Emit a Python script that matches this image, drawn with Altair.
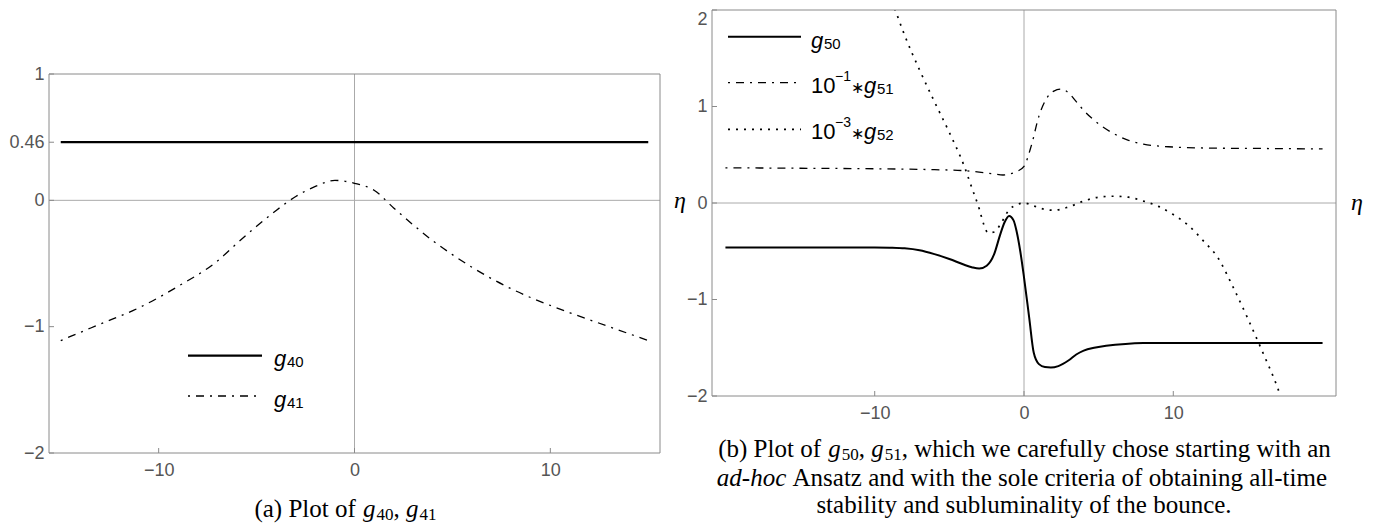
import altair as alt
import pandas as pd

# ---------------- panel (a) data ----------------
a_g40_x = [-15, 15]
a_g40_y = [0.46, 0.46]
a_g41_x = [-15, -13, -11, -9, -7, -6, -5, -4, -3, -2, -1, 0, 1, 2, 3, 4, 5, 6, 7, 8, 9, 11, 13, 15]
a_g41_y = [-1.11, -0.98, -0.85, -0.68, -0.48, -0.34, -0.205, -0.08, 0.03, 0.11, 0.158, 0.135,
           0.08, -0.06, -0.195, -0.32, -0.43, -0.53, -0.62, -0.70, -0.77, -0.89, -1.00, -1.11]
a_xticks = [-10, 0, 10]
a_yticks = [-2, -1, 0, 0.46, 1]

# ---------------- panel (b) data ----------------
b_g50_x = [-20, -15, -10, -9, -8, -7, -6, -5, -4, -3.5, -3, -2.5, -2, -1.6, -1.3, -1.0, -0.7,
           -0.5, -0.25, 0, 0.35, 0.65, 1.0, 1.4, 1.8, 2.3, 3.0, 3.5, 4.0, 4.7, 5.5, 6.8, 8, 10, 14, 20]
b_g50_y = [-0.46, -0.46, -0.46, -0.463, -0.47, -0.49, -0.53, -0.58, -0.64, -0.665, -0.68, -0.65,
           -0.53, -0.33, -0.20, -0.135, -0.18, -0.29, -0.50, -0.77, -1.19, -1.55, -1.67, -1.70,
           -1.705, -1.69, -1.63, -1.57, -1.53, -1.50, -1.48, -1.46, -1.452, -1.45, -1.45, -1.45]
b_g51_x = [-20, -15, -10, -6, -4, -3, -2, -1.4, -1, -0.5, 0, 0.5, 1, 1.5, 2, 2.5, 3, 3.5, 4, 5,
           6, 7, 8, 10, 12, 16, 20]
b_g51_y = [0.365, 0.36, 0.355, 0.345, 0.335, 0.32, 0.30, 0.29, 0.30, 0.325, 0.38, 0.60, 0.90,
           1.08, 1.16, 1.18, 1.14, 1.05, 0.96, 0.82, 0.72, 0.65, 0.61, 0.58, 0.57, 0.565, 0.56]
b_g52_x = [-9.2, -8.6, -8, -7, -6, -5, -4, -3.5, -3, -2.7, -2.4, -2, -1.5, -1, -0.5, 0, 0.5, 1,
           2, 3, 4, 5, 6, 7, 8, 9, 10, 11, 12, 13, 14, 15, 16, 17, 17.4]
b_g52_y = [2.25, 1.99, 1.74, 1.38, 1.05, 0.73, 0.38, 0.16, -0.06, -0.22, -0.31, -0.30, -0.20,
           -0.07, -0.02, 0.0, -0.02, -0.05, -0.075, -0.04, 0.02, 0.06, 0.07, 0.06, 0.02, -0.035,
           -0.12, -0.23, -0.39, -0.57, -0.87, -1.20, -1.55, -1.92, -2.1]
b_xticks = [-10, 0, 10]
b_yticks = [-2, -1, 0, 1, 2]

ONE = pd.DataFrame({"k": [0]})
LABEL_FONT = "Liberation Sans"
SERIF = "Liberation Serif"
GREY = "#555555"
FRAME = "#8a8a8a"
AXLINE = "#aaaaaa"
DASHDOT = [2, 6, 8, 6]
DOTTED = [2, 6]
CAP = 25      # caption font size
SUB = 17      # caption subscript size


def make_axes(xticks, yticks, yfmt, ylabelbase="middle"):
    xaxis = alt.Axis(values=xticks, ticks=False, tickSize=0, domain=False, grid=False,
                     labelFont=LABEL_FONT, labelFontSize=18, labelColor=GREY, labelPadding=8,
                     title=None, labelOverlap=False, format="d")
    yaxis = alt.Axis(values=yticks, ticks=False, tickSize=0, domain=False, grid=False,
                     labelFont=LABEL_FONT, labelFontSize=18, labelColor=GREY, labelPadding=5,
                     title=None, labelOverlap=False, format=yfmt, labelBaseline=ylabelbase)
    return xaxis, yaxis


def line(xs, ys, P, dash=None, width=1.3):
    kw = dict(color="black", strokeWidth=width, interpolate="monotone", clip=True)
    if dash:
        kw["strokeDash"] = dash
    return alt.Chart(pd.DataFrame({"x": xs, "y": ys})).mark_line(**kw).encode(
        x=alt.X("x:Q", scale=P["xs"], axis=P["xa"]), y=alt.Y("y:Q", scale=P["ys"], axis=P["ya"]))


def txt(t, x, y, size, font=LABEL_FONT, style="normal", align="left", baseline="alphabetic", color="black"):
    return alt.Chart(ONE).mark_text(text=t, align=align, baseline=baseline, fontSize=size,
                                    font=font, fontStyle=style, color=color).encode(
        x=alt.value(x), y=alt.value(y))


def sample(x1, x2, y, dash=None, width=1.3):
    kw = dict(color="black", strokeWidth=width)
    if dash:
        kw["strokeDash"] = dash
    return alt.Chart(ONE).mark_rule(**kw).encode(x=alt.value(x1), x2=alt.value(x2), y=alt.value(y))


def frame_layers(P, xticks, yticks, W, top, bottom):
    frame = alt.Chart(ONE).mark_rect(fillOpacity=0, stroke=FRAME, strokeWidth=1).encode(
        x=alt.value(0), x2=alt.value(W), y=alt.value(top), y2=alt.value(bottom))
    x0 = alt.Chart(pd.DataFrame({"x": [0]})).mark_rule(color=AXLINE, strokeWidth=1).encode(
        x=alt.X("x:Q", scale=P["xs"], axis=P["xa"]), y=alt.value(top), y2=alt.value(bottom))
    y0 = alt.Chart(pd.DataFrame({"y": [0]})).mark_rule(color=AXLINE, strokeWidth=1).encode(
        y=alt.Y("y:Q", scale=P["ys"], axis=P["ya"]), x=alt.value(0), x2=alt.value(W))
    xt = alt.Chart(pd.DataFrame({"x": xticks})).mark_rule(color=FRAME, strokeWidth=1).encode(
        x=alt.X("x:Q", scale=P["xs"], axis=P["xa"]), y=alt.value(bottom), y2=alt.value(bottom - 5))
    yt = alt.Chart(pd.DataFrame({"y": yticks})).mark_rule(color=FRAME, strokeWidth=1).encode(
        y=alt.Y("y:Q", scale=P["ys"], axis=P["ya"]), x=alt.value(0), x2=alt.value(5))
    return [x0, y0, xt, yt, frame]


# ---------------- panel (a) ----------------
WA, TOPA, HA = 611, 64, 443           # plot frame from y=64 to y=443 inside this view
xa, ya = make_axes(a_xticks, a_yticks, "~g")
PA = dict(xs=alt.Scale(domain=[-15.6, 15.6], nice=False, zero=False),
          ys=alt.Scale(domain=[-2, 1], nice=False, zero=False, range=[HA, TOPA]),
          xa=xa, ya=ya)
layers_a = frame_layers(PA, a_xticks, a_yticks, WA, TOPA, HA)
cy = 507
layers_a += [
    line(a_g40_x, a_g40_y, PA, width=2.2),
    line(a_g41_x, a_g41_y, PA, dash=DASHDOT, width=1.3),
    sample(139, 213, 345.7, width=2.2),
    sample(139, 213, 386, dash=DASHDOT),
    txt("g", 225, 356, 22, style="italic"),
    txt("40", 238, 357, 15),
    txt("g", 225, 397, 22, style="italic"),
    txt("41", 238, 398, 15),
    txt("η", WA + 14, 191, 24, font=SERIF, style="italic", baseline="middle"),
    txt("(a) Plot of", 205.4, cy, CAP, font=SERIF),
    txt("g", 314.0, cy, CAP, font=SERIF, style="italic"),
    txt("40", 327.5, cy + 3, SUB, font=SERIF),
    txt(",", 344.5, cy, CAP, font=SERIF),
    txt("g", 357.0, cy, CAP, font=SERIF, style="italic"),
    txt("41", 370.5, cy + 3, SUB, font=SERIF),
]
panel_a = alt.layer(*layers_a).properties(width=WA, height=HA)

# ---------------- panel (b) ----------------
WB, HB = 624, 386
top_base = {"condition": {"test": "datum.value == 2", "value": "top"}, "value": "middle"}
xb, yb = make_axes(b_xticks, b_yticks, "d", ylabelbase=top_base)
PB = dict(xs=alt.Scale(domain=[-20.9, 20.9], nice=False, zero=False),
          ys=alt.Scale(domain=[-2, 2], nice=False, zero=False),
          xa=xb, ya=yb)
layers_b = frame_layers(PB, b_xticks, b_yticks, WB, 0, HB)
c1, c2, c3 = 447, 476, 503
layers_b += [
    line(b_g50_x, b_g50_y, PB, width=2.0),
    line(b_g51_x, b_g51_y, PB, dash=DASHDOT, width=1.3),
    line(b_g52_x, b_g52_y, PB, dash=DOTTED, width=1.7),
    sample(16, 89, 26.7, width=2.0),
    sample(16, 89, 72.7, dash=DASHDOT),
    sample(16, 89, 119.3, dash=DOTTED, width=1.7),
    txt("g", 99, 37.7, 22, style="italic"),
    txt("50", 112, 38.7, 15),
    txt("10", 99, 82.7, 22),
    txt("−1", 123, 70.7, 14),
    txt("∗", 145, 82.7, 16, align="center"),
    txt("g", 152, 82.7, 22, style="italic"),
    txt("51", 165, 83.7, 15),
    txt("10", 99, 129.3, 22),
    txt("−3", 123, 117.3, 14),
    txt("∗", 145, 129.3, 16, align="center"),
    txt("g", 152, 129.3, 22, style="italic"),
    txt("52", 165, 130.3, 15),
    txt("η", WB + 15, 193, 24, font=SERIF, style="italic", baseline="middle"),
    txt("(b) Plot of", 6.2, c1, CAP, font=SERIF),
    txt("g", 116.2, c1, CAP, font=SERIF, style="italic"),
    txt("50", 129.7, c1 + 3, SUB, font=SERIF),
    txt(",", 146.7, c1, CAP, font=SERIF),
    txt("g", 159.2, c1, CAP, font=SERIF, style="italic"),
    txt("51", 172.7, c1 + 3, SUB, font=SERIF),
    txt(", which we carefully chose starting with an", 189.7, c1, CAP, font=SERIF),
    txt("ad-hoc", 4.8, c2, CAP, font=SERIF, style="italic"),
    txt("Ansatz and with the sole criteria of obtaining all-time", 80.5, c2, CAP, font=SERIF),
    txt("stability and subluminality of the bounce.", 312, c3, CAP, font=SERIF, align="center"),
]
panel_b = alt.layer(*layers_b).properties(width=WB, height=HB)

chart = alt.hconcat(panel_a, panel_b, spacing=52, bounds="flush").properties(
    padding={"left": 0, "top": 1, "right": 10, "bottom": 5}
).configure_view(strokeOpacity=0)

chart.save("out.html", embed_options={"renderer": "svg", "actions": False})
